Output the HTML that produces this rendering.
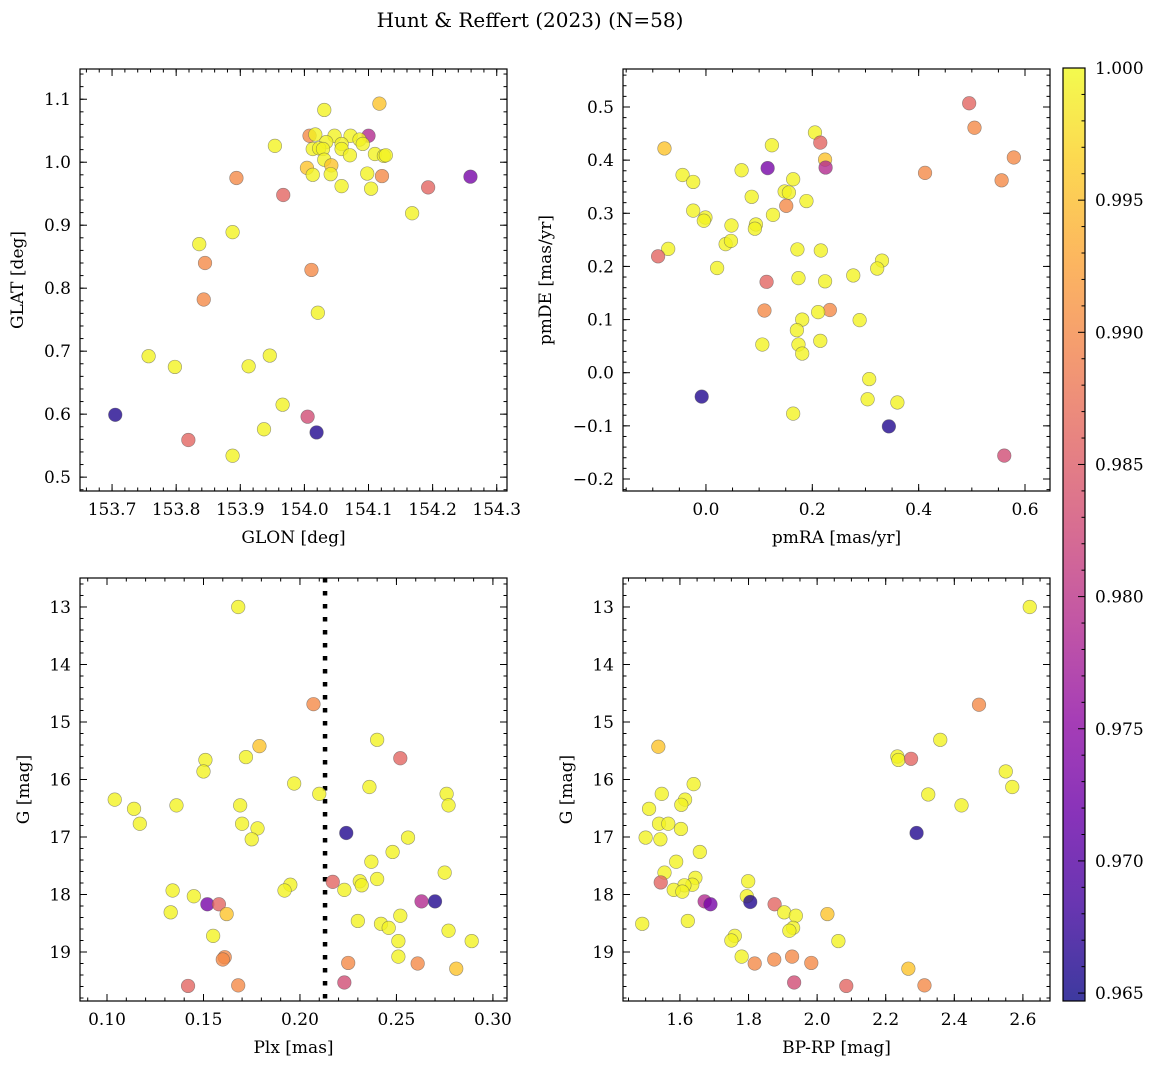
<!DOCTYPE html>
<html><head><meta charset="utf-8"><style>
html,body{margin:0;padding:0;background:#fff;}
svg{display:block;font-family:"DejaVu Serif","Liberation Serif",serif;}
</style></head><body>
<svg id="fig" width="1161" height="1068" viewBox="0 0 1161 1068" xmlns="http://www.w3.org/2000/svg">
<text x="530" y="27" font-size="20" text-anchor="middle">Hunt &amp; Reffert (2023) (N=58)</text>
</svg>
<script>
// membership probability levels used for colouring
const Y=0.9995, LY=0.9955, O=0.990, S=0.986, P=0.983, M=0.979, V=0.973, B=0.966;

// Panel 1: GLON / GLAT
const glon=[154.031,154.117,154.100,154.008,154.017,154.047,154.072,154.086,154.091,154.034,154.013,154.023,154.029,154.058,154.058,153.954,154.110,154.124,154.127,154.071,154.031,154.042,154.004,154.013,154.041,154.098,154.121,153.894,154.058,154.104,153.967,154.193,154.259,154.168,153.888,153.836,153.845,154.011,153.843,154.021,153.757,153.798,153.913,153.946,153.966,154.005,153.705,154.019,153.819,153.937,153.888];
const glat=[1.083,1.093,1.042,1.042,1.044,1.042,1.042,1.036,1.029,1.032,1.021,1.022,1.021,1.029,1.021,1.026,1.013,1.010,1.011,1.011,1.004,0.995,0.991,0.980,0.981,0.982,0.978,0.975,0.962,0.958,0.948,0.960,0.977,0.919,0.889,0.870,0.840,0.829,0.782,0.761,0.692,0.675,0.676,0.693,0.615,0.596,0.599,0.571,0.559,0.576,0.534];
const prob1=[Y,LY,M,O,Y,Y,Y,Y,Y,Y,Y,Y,Y,Y,Y,Y,Y,Y,Y,Y,Y,LY,LY,Y,Y,Y,O,O,Y,Y,S,S,V,Y,Y,Y,O,O,O,Y,Y,Y,Y,Y,Y,P,B,B,S,Y,Y];

// Panel 2: pmRA / pmDE
const pmra=[0.495,0.505,0.579,0.412,0.556,-0.078,0.205,0.215,0.124,0.224,0.225,0.116,-0.044,-0.024,0.067,0.164,0.148,0.156,0.086,0.189,0.151,0.126,-0.024,-0.001,-0.004,0.048,0.094,0.092,0.037,0.047,-0.071,-0.090,0.021,0.172,0.216,0.331,0.322,0.277,0.174,0.224,0.114,0.110,0.233,0.211,0.181,0.289,0.171,0.106,0.174,0.215,0.181,0.307,0.304,0.360,0.164,-0.008,0.344,0.561];
const pmde=[0.507,0.461,0.405,0.376,0.362,0.422,0.452,0.433,0.428,0.401,0.386,0.385,0.372,0.359,0.381,0.364,0.341,0.339,0.331,0.323,0.314,0.297,0.305,0.292,0.286,0.277,0.279,0.271,0.242,0.248,0.233,0.219,0.197,0.232,0.230,0.211,0.196,0.183,0.178,0.172,0.171,0.117,0.118,0.114,0.100,0.099,0.080,0.053,0.053,0.060,0.036,-0.012,-0.050,-0.056,-0.077,-0.045,-0.101,-0.156];
const prob2=[S,O,O,O,O,LY,Y,S,Y,LY,M,V,Y,Y,Y,Y,Y,Y,Y,Y,O,Y,Y,Y,Y,Y,Y,Y,Y,Y,Y,S,Y,Y,Y,Y,Y,Y,Y,Y,S,O,O,Y,Y,Y,Y,Y,Y,Y,Y,Y,Y,Y,Y,B,B,P];

// Panel 3: Plx / G
const plx=[0.168,0.207,0.240,0.252,0.179,0.151,0.150,0.172,0.197,0.210,0.236,0.276,0.277,0.104,0.114,0.117,0.136,0.169,0.170,0.178,0.175,0.224,0.256,0.248,0.237,0.275,0.240,0.231,0.232,0.217,0.223,0.195,0.192,0.134,0.145,0.133,0.152,0.158,0.162,0.263,0.270,0.252,0.230,0.242,0.246,0.277,0.289,0.251,0.251,0.155,0.161,0.160,0.225,0.261,0.281,0.223,0.142,0.168];
const gmag3=[13.00,14.69,15.31,15.63,15.42,15.66,15.86,15.61,16.07,16.25,16.13,16.25,16.45,16.35,16.51,16.77,16.45,16.45,16.77,16.85,17.04,16.93,17.01,17.26,17.43,17.62,17.73,17.77,17.84,17.78,17.92,17.83,17.93,17.93,18.03,18.31,18.17,18.17,18.34,18.12,18.12,18.37,18.46,18.51,18.58,18.63,18.81,18.81,19.08,18.72,19.09,19.13,19.19,19.20,19.29,19.53,19.59,19.58];
const prob3=[Y,O,Y,S,LY,Y,Y,Y,Y,Y,Y,Y,Y,Y,Y,Y,Y,Y,Y,Y,Y,B,Y,Y,Y,Y,Y,Y,Y,S,Y,Y,Y,Y,Y,Y,V,S,LY,M,B,Y,Y,Y,Y,Y,Y,Y,Y,Y,O,O,O,O,LY,P,S,O];
const plxCut=[0.213];

// Panel 4: BP-RP / G
const bprp=[2.620,2.472,2.359,1.537,2.234,2.237,2.274,2.550,2.569,2.324,2.421,1.640,1.547,1.615,1.604,1.510,1.539,1.566,1.603,1.500,1.543,2.290,1.658,1.589,1.555,1.544,1.645,1.636,1.613,1.582,1.607,1.799,1.672,1.689,1.795,1.805,1.876,1.904,1.938,2.030,1.490,1.623,1.930,1.919,2.062,1.760,1.750,1.780,1.818,1.875,1.927,1.983,2.266,1.933,2.085,2.313];
const gmag4=[13.00,14.70,15.31,15.43,15.60,15.66,15.64,15.86,16.13,16.26,16.45,16.08,16.25,16.35,16.44,16.51,16.77,16.77,16.86,17.01,17.04,16.93,17.26,17.43,17.62,17.79,17.71,17.83,17.84,17.92,17.95,17.77,18.12,18.17,18.03,18.13,18.17,18.31,18.37,18.34,18.51,18.46,18.58,18.63,18.81,18.72,18.80,19.08,19.20,19.13,19.08,19.19,19.29,19.53,19.59,19.58];
const prob4=[Y,O,Y,LY,Y,Y,S,Y,Y,Y,Y,Y,Y,Y,Y,Y,Y,Y,Y,Y,Y,B,Y,Y,Y,S,Y,Y,Y,Y,Y,Y,M,V,Y,B,S,Y,Y,LY,Y,Y,Y,Y,Y,Y,Y,Y,O,O,O,O,LY,P,S,O];

// Tick labels
const xt1=["153.7","153.8","153.9","154.0","154.1","154.2","154.3"];
const yt1=["0.5","0.6","0.7","0.8","0.9","1.0","1.1"];
const xt2=["0.0","0.2","0.4","0.6"];
const yt2=["−0.2","−0.1","0.0","0.1","0.2","0.3","0.4","0.5"];
const xt3=["0.10","0.15","0.20","0.25","0.30"];
const yt34=["13","14","15","16","17","18","19"];
const xt4=["1.6","1.8","2.0","2.2","2.4","2.6"];
const cbt=["0.965","0.970","0.975","0.980","0.985","0.990","0.995","1.000"];

const VMIN=0.9647, VMAX=1.0;
const NS="http://www.w3.org/2000/svg";
const svg=document.getElementById('fig');
const stops=[[13,8,135],[65,4,157],[106,0,168],[143,13,164],[177,42,144],[204,71,120],[225,100,98],[242,132,75],[252,166,54],[252,206,37],[240,249,33]];
function plasma(t){t=Math.max(0,Math.min(1,t));const f=t*10,i=Math.min(9,Math.floor(f)),r=f-i;const a=stops[i],b=stops[i+1];return 'rgb('+[0,1,2].map(k=>Math.round(a[k]+(b[k]-a[k])*r)).join(',')+')';}
function mk(tag,attrs,parent){const e=document.createElementNS(NS,tag);for(const k in attrs)e.setAttribute(k,attrs[k]);(parent||svg).appendChild(e);return e;}

function panel(cfg){
  const {x0,x1,y0,y1,xmin,xmax,ymin,ymax,inv,name}=cfg;
  const sx=v=>x0+(v-xmin)/(xmax-xmin)*(x1-x0);
  const sy=inv?(v=>y0+(v-ymin)/(ymax-ymin)*(y1-y0)):(v=>y1-(v-ymin)/(ymax-ymin)*(y1-y0));
  const g=mk('g',{});
  
  
  // clip
  const cid='clip-'+name;
  const cp=mk('clipPath',{id:cid},g);mk('rect',{x:x0,y:y0,width:x1-x0,height:y1-y0},cp);
  const pts=mk('g',{'clip-path':'url(#'+cid+')'},g);
  
  
  if(cfg.vline){cfg.vline.forEach(v=>{const l=mk('line',{x1:sx(v),x2:sx(v),y1:y0,y2:y1,stroke:'#000','stroke-width':4.5,'stroke-dasharray':'4.5 8.5'},pts);
    
    });}
  // draw in order of probability ascending so yellow points on top? keep data order
  cfg.xs.forEach((xv,i)=>{
    const c=mk('circle',{cx:sx(xv),cy:sy(cfg.ys[i]),r:6.8,fill:plasma((cfg.ps[i]-VMIN)/(VMAX-VMIN)),'fill-opacity':0.8,stroke:'#555','stroke-opacity':0.6,'stroke-width':0.6},pts);
    
    
  });
  mk('rect',{x:x0,y:y0,width:x1-x0,height:y1-y0,fill:'none',stroke:'#000','stroke-width':1.2},g);
  // ticks
  const tk=(vals,len,isX)=>vals.forEach(v=>{
    if(isX){const p=sx(v);if(p<x0-0.5||p>x1+0.5)return;mk('line',{x1:p,x2:p,y1:y1,y2:y1-len,stroke:'#000','stroke-width':1},g);mk('line',{x1:p,x2:p,y1:y0,y2:y0+len,stroke:'#000','stroke-width':1},g);}
    else{const p=sy(v);if(p<y0-0.5||p>y1+0.5)return;mk('line',{x1:x0,x2:x0+len,y1:p,y2:p,stroke:'#000','stroke-width':1},g);mk('line',{x1:x1,x2:x1-len,y1:p,y2:p,stroke:'#000','stroke-width':1},g);}
  });
  const rng=(a,b,s)=>{const r=[];for(let v=a;v<=b+1e-9;v+=s)r.push(+v.toFixed(6));return r;};
  tk(rng(Math.ceil(xmin/cfg.xmin_s)*cfg.xmin_s,xmax,cfg.xmin_s),3.5,true);
  tk(rng(Math.ceil(Math.min(ymin,ymax)/cfg.ymin_s)*cfg.ymin_s,Math.max(ymin,ymax),cfg.ymin_s),3.5,false);
  const xv=cfg.xticks.map(t=>parseFloat(t.replace('−','-')));
  const yv=cfg.yticks.map(t=>parseFloat(t.replace('−','-')));
  tk(xv,7,true);tk(yv,7,false);
  cfg.xticks.forEach((t,i)=>{const e=mk('text',{x:sx(xv[i]),y:y1+24,'font-size':17,'text-anchor':'middle'},g);e.textContent=t;
    
    });
  cfg.yticks.forEach((t,i)=>{const e=mk('text',{x:x0-9,y:sy(yv[i])+6,'font-size':17,'text-anchor':'end'},g);e.textContent=t;
    
    });
  const xl=mk('text',{x:(x0+x1)/2,y:y1+52,'font-size':17,'text-anchor':'middle'},g);xl.textContent=cfg.xlabel;
  
  
  const ylx=cfg.ylx,yly=(y0+y1)/2;
  const yl=mk('text',{x:ylx,y:yly,'font-size':17,'text-anchor':'middle',transform:'rotate(-90 '+ylx+' '+yly+')'},g);yl.textContent=cfg.ylabel;
  
  
}

panel({name:'glon-glat-panel',x0:80,x1:507,y0:69,y1:491,xmin:153.650,xmax:154.316,ymin:0.478,ymax:1.148,xs:glon,ys:glat,ps:prob1,xticks:xt1,yticks:yt1,xmin_s:0.02,ymin_s:0.02,xlabel:'GLON [deg]',ylabel:'GLAT [deg]',ylx:23});
panel({name:'pm-panel',x0:623,x1:1050,y0:69,y1:491,xmin:-0.156,xmax:0.647,ymin:-0.2226,ymax:0.5715,xs:pmra,ys:pmde,ps:prob2,xticks:xt2,yticks:yt2,xmin_s:0.05,ymin_s:0.02,xlabel:'pmRA [mas/yr]',ylabel:'pmDE [mas/yr]',ylx:551});
panel({name:'plx-g-panel',x0:80,x1:507,y0:578,y1:1001,xmin:0.086,xmax:0.3073,ymin:12.496,ymax:19.852,inv:true,xs:plx,ys:gmag3,ps:prob3,xticks:xt3,yticks:yt34,xmin_s:0.01,ymin_s:0.2,xlabel:'Plx [mas]',ylabel:'G [mag]',ylx:29,vline:plxCut});
panel({name:'cmd-panel',x0:623,x1:1050,y0:578,y1:1001,xmin:1.434,xmax:2.679,ymin:12.496,ymax:19.852,inv:true,xs:bprp,ys:gmag4,ps:prob4,xticks:xt4,yticks:yt34,xmin_s:0.05,ymin_s:0.2,xlabel:'BP-RP [mag]',ylabel:'G [mag]',ylx:572});

// colorbar
(function(){
  const cx0=1063,cx1=1085,cy0=68,cy1=1001;
  const g=mk('g',{});
  
  
  const defs=mk('defs',{},g);
  const lg=mk('linearGradient',{id:'cbg',x1:0,y1:1,x2:0,y2:0},defs);
  for(let i=0;i<=20;i++){mk('stop',{offset:i/20,'stop-color':plasma(i/20),'stop-opacity':0.8},lg);}
  mk('rect',{x:cx0,y:cy0,width:cx1-cx0,height:cy1-cy0,fill:'url(#cbg)',stroke:'#000','stroke-width':1.2},g);
  const sy=v=>cy1-(v-VMIN)/(VMAX-VMIN)*(cy1-cy0);
  for(let k=965;k<=1000;k++){const v=k/1000,p=sy(v),maj=(k%5===0);
    mk('line',{x1:cx1,x2:cx1-(maj?7:3.5),y1:p,y2:p,stroke:'#000','stroke-width':1},g);}
  cbt.forEach(t=>{const v=parseFloat(t);const e=mk('text',{x:1095,y:sy(v)+6,'font-size':17},g);e.textContent=t;
    
    });
})();
</script>
</body></html>
